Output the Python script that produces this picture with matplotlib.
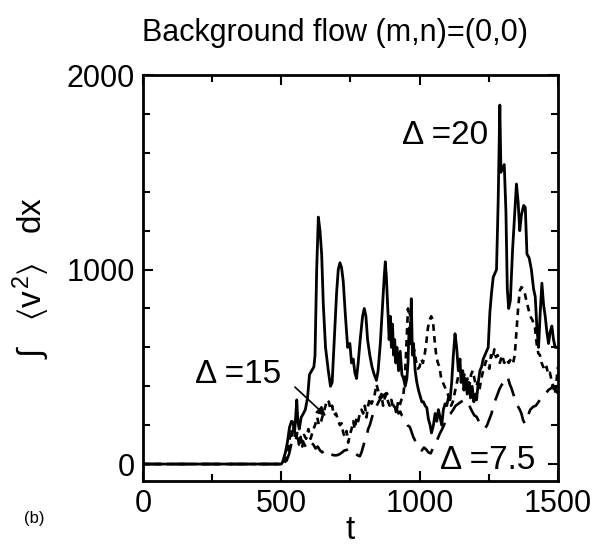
import matplotlib
matplotlib.use('Agg')
import matplotlib.pyplot as plt
from matplotlib.ticker import MultipleLocator

plt.rcParams['font.family'] = ['Liberation Sans', 'DejaVu Sans']
plt.rcParams['mathtext.fontset'] = 'custom'
plt.rcParams['mathtext.rm'] = 'Liberation Sans'
plt.rcParams['mathtext.it'] = 'Liberation Sans'
plt.rcParams['mathtext.fallback'] = 'stixsans'

# Delta = 20 (solid)
t20 = [0, 500, 505, 515, 522, 530, 537, 543, 548, 552, 556, 560, 565, 572, 580, 587, 595, 602,
       610, 618, 622, 628, 634, 640, 646, 652, 660, 670, 678, 684, 692, 700, 706, 712, 718, 724,
       732, 740, 748, 754, 760, 766, 772, 778, 786, 794, 800, 806, 812, 820, 828, 836, 844, 850,
       858, 866, 872, 876, 880, 886, 890, 894, 898, 902, 906, 910, 914, 918, 924, 930, 936, 942,
       948, 954, 958, 962, 966, 970, 974, 978, 984, 990, 996, 1002, 1008, 1014, 1020, 1026, 1032,
       1038, 1043, 1050, 1056, 1062, 1068, 1074, 1080, 1086, 1092, 1098, 1104, 1110, 1116, 1122,
       1128, 1134, 1140, 1146, 1150, 1156, 1160, 1166, 1172, 1178, 1184, 1190, 1196, 1202, 1206,
       1212, 1218, 1224, 1230, 1236, 1242, 1248, 1254, 1260, 1266, 1272, 1278, 1284, 1290, 1294,
       1300, 1306, 1312, 1317, 1322, 1328, 1336, 1344, 1350, 1356, 1362, 1368, 1376, 1382, 1388,
       1396, 1404, 1412, 1418, 1424, 1430, 1436, 1442, 1448, 1454, 1460, 1466, 1472, 1478, 1484,
       1490, 1500]
v20 = [0, 0, 10, 60, 110, 190, 220, 215, 160, 240, 330, 220, 180, 240, 260, 280, 340, 460,
       480, 500, 560, 1000, 1270, 1200, 1080, 820, 600, 480, 400, 420, 650, 880, 1000, 1035, 1010, 940,
       760, 600, 620, 520, 540, 470, 440, 520, 650, 760, 800, 760, 640, 560, 500, 460, 430, 480,
       620, 820, 960, 1040, 960, 760, 640, 760, 600, 720, 560, 640, 520, 600, 480, 580, 460, 440,
       400, 440, 520, 700, 620, 850, 560, 620, 480, 420, 380, 350, 320, 320, 300, 290, 230,
       200, 160, 200, 260, 220, 280, 240, 200, 280, 310, 300, 340, 330, 420, 560,
       670, 600, 480, 540, 420, 480, 380, 440, 360, 420, 340, 400, 320, 360, 330,
       420, 480, 500, 540, 560, 580, 600, 780, 880, 960, 980, 1000, 1350, 1846, 1500,
       1520, 1540, 1300, 900, 800, 840, 1100, 1300, 1440, 1350, 1200, 1280, 1330, 1320, 1080,
       1060, 1000, 900, 860, 700, 600, 780, 930, 820, 760, 680, 620, 680, 710, 640,
       600, 600]

# Delta = 15 (short dashes)
t15 = [0, 510, 515, 520, 528, 535, 540, 546, 552, 558, 564, 570, 576, 582, 590, 598, 606, 614,
       622, 630, 636, 644, 652, 660, 666, 672, 678, 684, 690, 698, 706, 712, 718, 724, 730, 736,
       742, 748, 754, 760, 766, 772, 778, 784, 790, 796, 802, 808, 814, 820, 826, 832, 838, 844,
       850, 856, 862, 868, 874, 880, 886, 892, 898, 904, 910, 916, 922, 928, 934, 940, 946, 952,
       958, 962, 966, 970, 976, 982, 988, 994, 1000, 1006, 1012, 1018, 1024, 1030, 1036, 1042,
       1048, 1054, 1060, 1066, 1072, 1078, 1084, 1090, 1096, 1102, 1108, 1114, 1120, 1126, 1132,
       1138, 1144, 1150, 1156, 1162, 1168, 1174, 1180, 1186, 1192, 1198, 1204, 1210, 1216, 1222,
       1228, 1234, 1240, 1246, 1252, 1258, 1264, 1270, 1276, 1282, 1290, 1298, 1306, 1314, 1322,
       1330, 1338, 1344, 1350, 1356, 1362, 1368, 1374, 1380, 1386, 1393, 1400, 1408, 1417, 1423,
       1429, 1435, 1441, 1447, 1453, 1459, 1465, 1471, 1477, 1483, 1489, 1495, 1500]
v15 = [0, 0, 15, 40, 100, 180, 140, 200, 120, 160, 100, 140, 90, 150, 130, 180, 130, 170,
       200, 240, 200, 220, 260, 300, 330, 320, 280, 300, 250, 260, 220, 200, 210, 160, 140, 170,
       110, 150, 180, 220, 180, 240, 220, 260, 280, 260, 300, 240, 300, 340, 310, 330, 360, 410,
       380, 340, 360, 300, 340, 360, 320, 300, 330, 290, 300, 260, 320, 300, 330, 340, 420, 600,
       800, 760, 780, 620, 600, 580, 520, 490, 500, 540, 520, 560, 620, 700, 740, 760,
       740, 640, 560, 520, 500, 440, 420, 400, 380, 360, 330, 300, 320, 360, 400,
       440, 480, 470, 430, 460, 420, 440, 400, 460, 480, 440, 400, 420, 380, 430,
       470, 500, 530, 520, 490, 560, 540, 590, 550, 560, 520, 560, 520, 540, 520,
       540, 520, 560, 680, 800, 890, 910, 900, 880, 840, 800, 760, 740, 700, 620,
       570, 560, 520, 500, 480, 500, 460, 470, 430, 400, 360, 430, 500]

# Delta = 7.5 (long dashes)
t75 = [0, 515, 520, 528, 536, 544, 552, 560, 568, 576, 584, 592, 600, 608, 616, 624, 632, 640,
       648, 656, 664, 672, 680, 690, 700, 710, 720, 728, 736, 744, 752, 760, 768, 776, 784, 790,
       796, 802, 808, 814, 820, 826, 832, 838, 845, 852, 860, 868, 875, 881, 888, 894, 900, 906,
       912, 918, 924, 930, 936, 941, 948, 956, 965, 972, 977, 984, 992, 1001, 1008, 1016, 1024,
       1032, 1040, 1048, 1054, 1061, 1068, 1074, 1080, 1088, 1096, 1104, 1112, 1121, 1130, 1140,
       1150, 1160, 1170, 1180, 1190, 1198, 1206, 1214, 1222, 1230, 1236, 1244, 1252, 1260, 1266,
       1274, 1282, 1290, 1298, 1306, 1314, 1320, 1326, 1332, 1338, 1346, 1354, 1362, 1368, 1374,
       1380, 1386, 1392, 1400, 1411, 1420, 1430, 1440, 1447, 1455, 1465, 1475, 1483, 1492, 1500]
v75 = [0, 0, 20, 50, 100, 140, 150, 130, 110, 120, 100, 80, 90, 110, 100, 80, 90, 70,
       60, 70, 55, 60, 50, 45, 45, 50, 60, 70, 72, 80, 70, 60, 55, 45, 40, 60,
       90, 120, 140, 180, 200, 230, 260, 290, 300, 320, 340, 350, 360, 365, 350, 340, 320, 300,
       290, 280, 260, 270, 250, 243, 220, 200, 190, 160, 140, 120, 100, 75, 70, 85, 75,
       60, 55, 80, 100, 115, 140, 160, 175, 200, 230, 250, 260, 278, 300, 310,
       320, 330, 329, 300, 270, 250, 243, 220, 200, 190, 183, 200, 230, 260, 295,
       330, 360, 390, 410, 430, 449, 440, 410, 390, 363, 330, 300, 280, 260, 226,
       209, 220, 250, 280, 295, 300, 320, 340, 346, 360, 380, 390, 397, 380, 363]

fig = plt.figure(figsize=(5.98, 5.47), dpi=100)
ax = fig.add_axes([0.239, 0.1207, 0.694, 0.742])

ax.plot(t20, v20, color='black', lw=2)
ax.plot(t15, v15, color='black', lw=1.9, dashes=(2.5, 2))
ax.plot(t75, v75, color='black', lw=1.9, dashes=(7, 4))

ax.set_xlim(0, 1500)
ax.set_ylim(-87, 2000)
ax.xaxis.set_major_locator(MultipleLocator(500))
ax.xaxis.set_minor_locator(MultipleLocator(250))
ax.yaxis.set_major_locator(MultipleLocator(1000))
ax.yaxis.set_minor_locator(MultipleLocator(200))
ax.tick_params(which='both', direction='in', top=True, right=True, width=1.5)
ax.tick_params(which='major', length=7, labelsize=22, pad=6)
ax.tick_params(which='minor', length=5)
for s in ax.spines.values():
    s.set_linewidth(2)

ax.set_xlabel('t', fontsize=24, labelpad=-3)
ax.set_ylabel(r'$\int\ \ \ \langle v^{2} \rangle\ \ \ dx$', fontsize=24, labelpad=10)

fig.text(0.56, 0.94, 'Background flow (m,n)=(0,0)', fontsize=22, ha='center', va='center')
fig.text(0.04, 0.053, '(b)', fontsize=12, ha='left', va='center')

ax.text(936, 1691, 'Δ =20', fontsize=24, ha='left', va='center')
ax.text(188, 458, 'Δ =15', fontsize=24, ha='left', va='center')
ax.text(1073, 20, 'Δ =7.5', fontsize=24, ha='left', va='center')
ax.annotate('', xy=(669, 237), xytext=(542, 406),
            arrowprops=dict(arrowstyle='-|>', color='black', lw=1.2, mutation_scale=14))

fig.savefig('out.png', dpi=100)
